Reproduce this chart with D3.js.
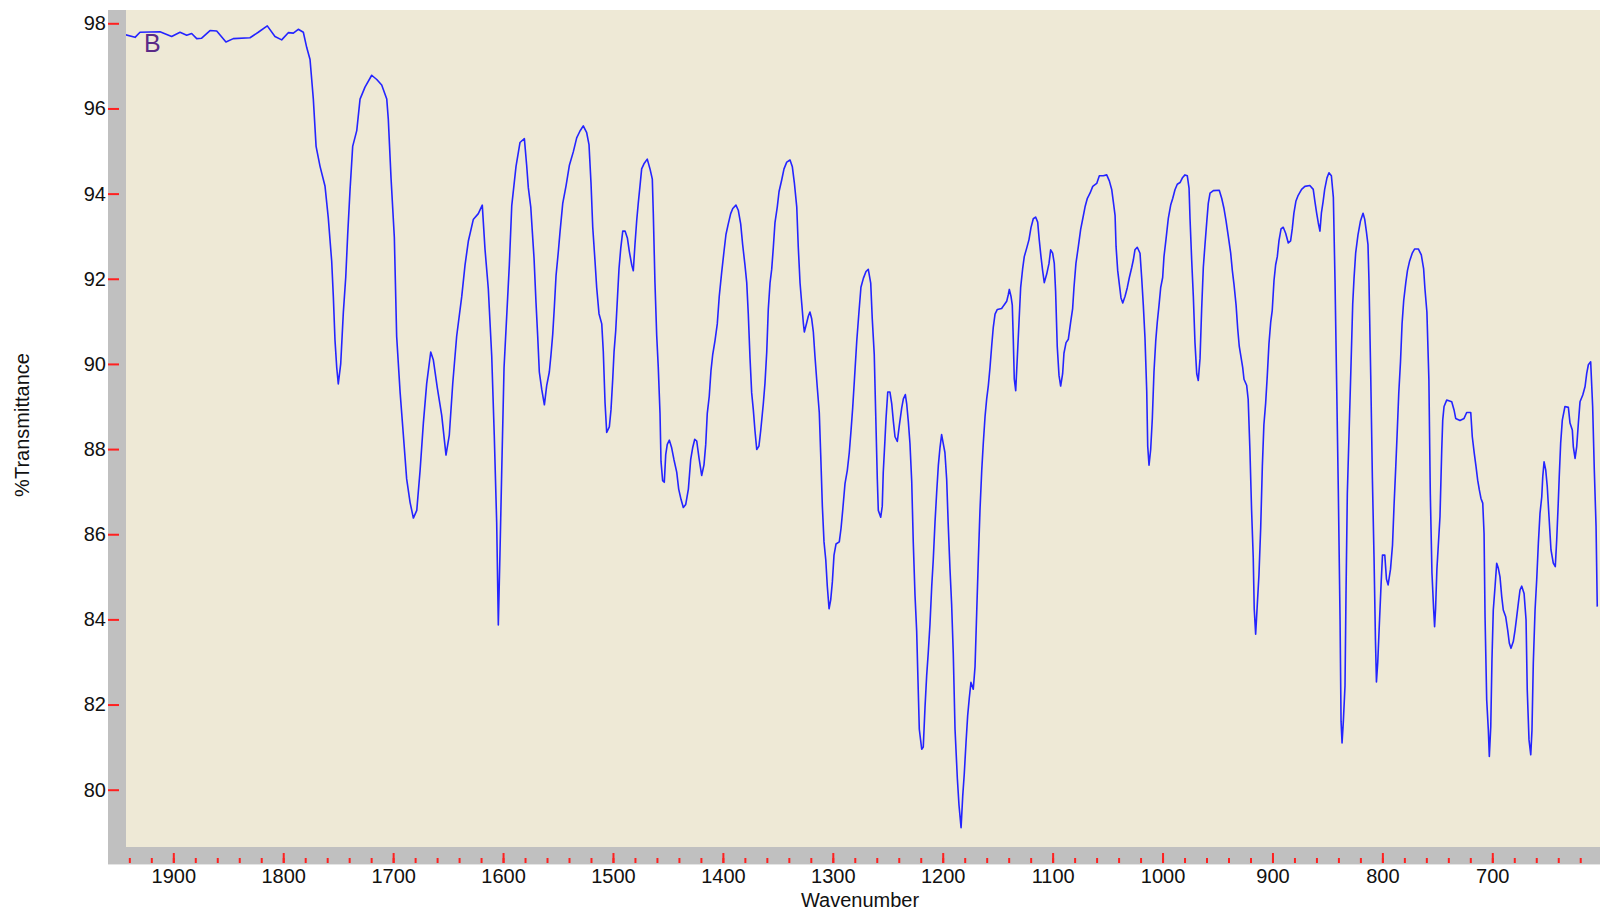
<!DOCTYPE html>
<html>
<head>
<meta charset="utf-8">
<script src="https://cdn.jsdelivr.net/npm/d3@7"></script>
<style>
  body { margin: 0; background: #ffffff; }
  svg { display: block; font-family: "Liberation Sans", Arial, sans-serif; }
</style>
</head>
<body>
<div class="spectrum"></div>
<script>
// Spectrum: wavenumber (cm-1) and %T
var wavenumber = [
  1943.3, 1934.8, 1930.3, 1912.1, 1901.5, 1893.9, 1887.8, 1883.3, 1878.7, 1874.2,
  1866.6, 1860.5, 1852.1, 1845.4, 1830.2, 1822.7, 1814.5, 1807.5, 1801.4, 1795.4,
  1790.8, 1786.3, 1781.7, 1778.6, 1775.6, 1772.6, 1770.1, 1766.5, 1762.0, 1759.0,
  1755.9, 1754.4, 1752.9, 1751.3, 1749.9, 1747.7, 1745.3, 1743.1, 1741.3, 1739.2,
  1736.8, 1733.1, 1730.1, 1725.6, 1719.5, 1714.9, 1710.4, 1705.8, 1704.4, 1701.9,
  1698.9, 1696.8, 1693.7, 1690.7, 1687.7, 1684.6, 1681.6, 1678.5, 1675.5, 1672.5,
  1669.5, 1665.8, 1663.4, 1659.8, 1655.8, 1651.9, 1648.9, 1645.8, 1642.2, 1637.6,
  1634.6, 1631.6, 1627.1, 1622.5, 1618.9, 1616.4, 1613.4, 1610.3, 1608.0, 1605.8,
  1604.3, 1602.8, 1601.2, 1599.1, 1596.7, 1594.3, 1592.1, 1588.2, 1584.6, 1580.6,
  1578.5, 1577.0, 1574.8, 1573.4, 1571.8, 1570.0, 1568.5, 1567.0, 1564.8, 1562.4,
  1560.3, 1557.9, 1556.4, 1554.8, 1553.3, 1551.8, 1549.7, 1548.1, 1545.7, 1542.7,
  1539.7, 1536.1, 1533.0, 1530.0, 1527.0, 1523.9, 1521.8, 1520.0, 1518.4, 1516.3,
  1514.8, 1512.7, 1510.2, 1508.8, 1507.2, 1505.7, 1503.3, 1501.8, 1500.2, 1499.0,
  1497.5, 1496.0, 1494.5, 1492.9, 1491.1, 1489.0, 1486.9, 1485.1, 1482.9, 1481.5,
  1480.0, 1478.4, 1477.0, 1475.4, 1473.9, 1471.8, 1468.8, 1466.3, 1464.2, 1463.3,
  1461.8, 1460.2, 1458.8, 1457.2, 1456.3, 1454.8, 1453.3, 1452.0, 1450.6, 1448.7,
  1446.6, 1444.5, 1442.0, 1440.2, 1438.1, 1436.0, 1433.8, 1431.4, 1429.3, 1427.5,
  1425.6, 1423.8, 1421.7, 1419.3, 1417.2, 1415.6, 1414.2, 1412.4, 1410.8, 1409.3,
  1407.2, 1405.1, 1403.3, 1401.1, 1399.0, 1397.2, 1395.1, 1392.9, 1391.0, 1388.1,
  1386.0, 1383.8, 1382.0, 1379.9, 1378.3, 1376.9, 1375.3, 1373.8, 1372.3, 1370.8,
  1369.2, 1367.2, 1365.6, 1363.2, 1361.7, 1360.1, 1358.7, 1357.1, 1355.6, 1354.1,
  1352.6, 1350.5, 1348.9, 1346.5, 1344.4, 1341.9, 1338.9, 1336.8, 1335.0, 1332.8,
  1331.4, 1329.8, 1328.3, 1326.8, 1325.9, 1323.8, 1322.3, 1320.8, 1319.2, 1317.7,
  1316.2, 1314.1, 1312.3, 1311.0, 1309.5, 1308.0, 1306.4, 1305.0, 1303.4, 1301.9,
  1300.4, 1298.9, 1297.1, 1294.1, 1292.5, 1291.0, 1288.9, 1286.8, 1285.0, 1283.4,
  1281.9, 1280.4, 1278.2, 1276.2, 1274.4, 1272.2, 1269.8, 1267.7, 1265.5, 1264.1,
  1262.3, 1261.0, 1259.5, 1258.6, 1256.4, 1255.0, 1254.1, 1252.5, 1251.6, 1250.0,
  1248.0, 1246.4, 1244.9, 1243.4, 1241.3, 1239.5, 1237.3, 1235.8, 1234.0, 1232.8,
  1231.3, 1229.8, 1228.2, 1226.8, 1225.2, 1223.7, 1222.5, 1221.3, 1219.1, 1217.7,
  1216.1, 1214.6, 1213.2, 1211.6, 1210.0, 1208.6, 1207.0, 1205.5, 1204.0, 1202.5,
  1201.0, 1199.5, 1198.0, 1196.4, 1195.0, 1193.4, 1191.9, 1190.4, 1188.8, 1186.7,
  1185.2, 1183.3, 1181.8, 1180.4, 1178.8, 1177.3, 1175.8, 1174.3, 1172.2, 1170.6,
  1169.1, 1167.6, 1166.1, 1164.5, 1163.1, 1161.5, 1160.0, 1158.5, 1157.0, 1155.4,
  1154.0, 1152.4, 1150.3, 1146.4, 1144.3, 1141.8, 1140.3, 1139.4, 1137.9, 1136.7,
  1135.8, 1134.9, 1133.6, 1132.1, 1130.6, 1129.1, 1127.3, 1125.8, 1123.6, 1121.5,
  1119.7, 1117.6, 1115.5, 1113.6, 1112.2, 1110.6, 1109.1, 1107.6, 1105.4, 1103.3,
  1101.8, 1100.0, 1098.5, 1097.3, 1095.8, 1094.2, 1092.7, 1090.9, 1089.7, 1087.8,
  1085.7, 1083.6, 1081.8, 1080.6, 1078.8, 1076.6, 1074.5, 1072.6, 1070.5, 1068.4,
  1066.0, 1063.5, 1059.9, 1057.5, 1053.9, 1050.8, 1048.4, 1046.2, 1044.8, 1043.2,
  1042.3, 1040.8, 1039.3, 1037.8, 1036.2, 1034.1, 1032.1, 1030.2, 1028.0, 1026.6,
  1025.1, 1023.0, 1020.5, 1019.0, 1017.5, 1016.0, 1014.4, 1013.5, 1012.3, 1010.8,
  1009.3, 1007.8, 1006.2, 1004.8, 1003.2, 1001.7, 999.9, 998.7, 996.9, 994.8,
  992.6, 990.7, 988.7, 986.6, 984.1, 981.7, 979.6, 977.5, 975.9, 975.0,
  973.5, 972.0, 970.5, 968.9, 967.5, 965.9, 964.4, 962.9, 961.4, 959.8,
  958.4, 956.8, 953.8, 948.4, 946.2, 944.1, 942.3, 940.2, 938.0, 936.5,
  935.0, 933.1, 931.6, 930.2, 927.1, 925.9, 923.5, 922.1, 920.5, 919.0,
  917.5, 916.6, 915.3, 913.8, 912.3, 910.7, 909.2, 907.8, 906.2, 904.7,
  903.2, 901.6, 900.2, 898.6, 897.1, 895.6, 894.1, 892.2, 890.2, 888.0,
  885.6, 883.5, 882.0, 880.5, 878.7, 876.6, 873.5, 870.5, 866.0, 862.9,
  861.4, 859.8, 858.3, 856.8, 855.5, 853.9, 852.5, 850.4, 848.6, 846.4,
  844.6, 843.1, 841.5, 840.1, 838.5, 837.6, 836.7, 835.5, 834.0, 833.1,
  831.9, 830.3, 828.5, 827.0, 825.8, 824.3, 822.2, 820.0, 817.6, 816.1,
  814.6, 813.1, 812.2, 810.6, 809.1, 807.6, 806.3, 805.4, 804.2, 803.0,
  801.2, 799.9, 797.8, 796.3, 794.8, 792.6, 790.8, 789.4, 787.8, 786.6,
  785.1, 783.5, 782.1, 780.6, 778.7, 777.2, 775.2, 772.7, 770.6, 767.3,
  764.6, 762.5, 761.3, 759.5, 757.7, 756.4, 754.9, 753.4, 752.5, 751.6,
  750.4, 747.6, 746.0, 745.1, 743.9, 741.5, 736.9, 734.8, 733.3, 729.4,
  725.7, 723.3, 719.6, 718.2, 716.4, 714.8, 713.3, 711.8, 710.3, 708.7,
  707.5, 706.6, 705.1, 703.6, 702.7, 701.4, 700.3, 699.1, 697.5, 696.0,
  694.5, 693.0, 691.4, 690.0, 687.8, 686.0, 684.5, 683.0, 680.9, 679.3,
  677.8, 676.3, 674.8, 673.2, 671.1, 669.3, 668.2, 666.6, 665.0, 663.9,
  662.7, 661.1, 659.6, 658.1, 656.6, 655.0, 654.1, 652.9, 651.4, 650.0,
  648.4, 646.6, 644.5, 642.7, 641.4, 640.0, 639.1, 637.8, 636.3, 633.9,
  630.8, 629.3, 627.2, 626.3, 624.7, 623.2, 621.7, 620.2, 617.7, 615.6,
  614.1, 612.6, 610.5, 608.7, 607.2, 605.6, 604.5
];
var transmittance = [
  97.73, 97.67, 97.79, 97.80, 97.69, 97.79, 97.72, 97.76, 97.64, 97.65,
  97.83, 97.82, 97.56, 97.64, 97.66, 97.79, 97.94, 97.69, 97.61, 97.78,
  97.77, 97.86, 97.79, 97.43, 97.15, 96.22, 95.11, 94.64, 94.18, 93.43,
  92.41, 91.58, 90.56, 89.91, 89.53, 90.00, 91.21, 92.04, 93.06, 94.09,
  95.11, 95.48, 96.22, 96.50, 96.78, 96.68, 96.55, 96.22, 95.75, 94.36,
  92.97, 90.65, 89.35, 88.33, 87.30, 86.75, 86.38, 86.56, 87.49, 88.61,
  89.53, 90.28, 90.09, 89.44, 88.79, 87.86, 88.33, 89.53, 90.65, 91.58,
  92.32, 92.88, 93.39, 93.53, 93.73, 92.69, 91.76, 90.18, 88.33, 86.28,
  83.87, 85.54, 87.49, 89.91, 91.11, 92.32, 93.71, 94.64, 95.20, 95.29,
  94.66, 94.14, 93.69, 93.12, 92.48, 91.43, 90.66, 89.81, 89.40, 89.04,
  89.49, 89.81, 90.21, 90.70, 91.35, 92.07, 92.64, 93.12, 93.77, 94.18,
  94.66, 94.98, 95.31, 95.47, 95.59, 95.43, 95.15, 94.26, 93.21, 92.40,
  91.79, 91.18, 90.94, 90.29, 89.08, 88.39, 88.52, 88.92, 89.65, 90.29,
  90.78, 91.51, 92.24, 92.72, 93.12, 93.12, 92.96, 92.64, 92.32, 92.19,
  92.80, 93.37, 93.77, 94.18, 94.58, 94.70, 94.81, 94.58, 94.34, 93.53,
  91.91, 90.66, 89.93, 88.84, 87.71, 87.26, 87.22, 87.87, 88.11, 88.21,
  88.03, 87.75, 87.46, 87.06, 86.82, 86.63, 86.70, 87.06, 87.75, 88.03,
  88.23, 88.19, 87.79, 87.38, 87.63, 88.11, 88.84, 89.24, 89.85, 90.21,
  90.54, 90.94, 91.59, 92.15, 92.64, 93.04, 93.29, 93.53, 93.65, 93.73,
  93.61, 93.29, 92.80, 92.32, 91.91, 91.18, 90.13, 89.32, 88.92, 88.43,
  87.99, 88.07, 88.43, 89.07, 89.55, 90.28, 91.28, 91.90, 92.22, 92.74,
  93.32, 93.69, 94.05, 94.32, 94.58, 94.74, 94.79, 94.63, 94.26, 93.69,
  92.74, 91.90, 91.43, 90.96, 90.75, 90.96, 91.12, 91.22, 91.06, 90.75,
  90.17, 89.44, 88.86, 87.87, 86.66, 85.82, 85.40, 84.78, 84.25, 84.46,
  84.88, 85.51, 85.77, 85.82, 86.14, 86.56, 87.19, 87.50, 87.92, 88.44,
  88.97, 89.60, 90.54, 91.22, 91.80, 92.01, 92.17, 92.22, 91.90, 91.06,
  90.23, 88.86, 87.29, 86.56, 86.40, 86.66, 87.45, 88.24, 88.71, 89.34,
  89.34, 89.07, 88.65, 88.29, 88.18, 88.55, 88.97, 89.18, 89.28, 89.07,
  88.65, 88.13, 87.24, 85.82, 84.56, 83.73, 82.57, 81.42, 80.95, 81.00,
  81.94, 82.68, 83.20, 83.88, 84.78, 85.40, 86.29, 86.98, 87.61, 88.03,
  88.34, 88.13, 87.92, 87.29, 86.24, 85.19, 84.36, 83.20, 81.42, 80.27,
  79.64, 79.11, 79.85, 80.37, 81.11, 81.74, 82.16, 82.52, 82.36, 82.89,
  84.15, 85.40, 86.56, 87.50, 88.13, 88.76, 89.18, 89.49, 89.91, 90.44,
  90.86, 91.17, 91.28, 91.30, 91.38, 91.47, 91.63, 91.75, 91.59, 91.38,
  90.58, 89.65, 89.37, 90.17, 90.98, 91.79, 92.23, 92.52, 92.72, 92.92,
  93.20, 93.41, 93.45, 93.33, 92.92, 92.52, 92.19, 91.91, 92.11, 92.36,
  92.68, 92.60, 92.36, 91.71, 90.41, 89.73, 89.48, 89.77, 90.25, 90.50,
  90.58, 90.98, 91.30, 91.79, 92.36, 92.76, 93.16, 93.41, 93.69, 93.89,
  94.01, 94.17, 94.24, 94.42, 94.42, 94.44, 94.30, 94.09, 93.81, 93.49,
  92.76, 92.19, 91.87, 91.55, 91.43, 91.59, 91.79, 92.03, 92.27, 92.44,
  92.68, 92.74, 92.60, 92.03, 91.38, 90.62, 89.37, 88.07, 87.62, 87.99,
  88.72, 89.81, 90.54, 90.98, 91.38, 91.79, 92.03, 92.52, 92.92, 93.41,
  93.73, 93.89, 94.09, 94.22, 94.26, 94.38, 94.44, 94.42, 94.13, 93.41,
  92.44, 91.59, 90.50, 89.77, 89.61, 90.13, 91.30, 92.27, 92.80, 93.33,
  93.77, 94.01, 94.07, 94.08, 93.89, 93.65, 93.37, 93.00, 92.60, 92.19,
  91.87, 91.38, 90.82, 90.41, 89.92, 89.64, 89.50, 89.17, 87.97, 86.57,
  85.46, 84.25, 83.65, 84.35, 85.04, 86.16, 87.60, 88.57, 89.08, 89.73,
  90.47, 90.98, 91.26, 91.96, 92.33, 92.52, 92.89, 93.17, 93.21, 93.07,
  92.84, 92.89, 93.17, 93.54, 93.82, 93.96, 94.10, 94.17, 94.19, 94.10,
  93.82, 93.54, 93.31, 93.12, 93.54, 93.82, 94.10, 94.37, 94.49, 94.42,
  93.91, 91.96, 89.36, 87.04, 83.97, 81.61, 81.10, 81.61, 82.44, 84.58,
  86.95, 88.39, 90.01, 91.40, 92.01, 92.61, 93.03, 93.35, 93.54, 93.40,
  93.12, 92.80, 91.96, 89.73, 87.32, 85.46, 83.51, 82.53, 83.00, 83.74,
  84.81, 85.51, 85.51, 84.95, 84.81, 85.18, 85.74, 86.67, 87.60, 88.34,
  89.31, 90.06, 90.94, 91.49, 91.91, 92.19, 92.42, 92.61, 92.70, 92.70,
  92.56, 92.24, 91.77, 91.22, 89.64, 86.95, 85.09, 84.25, 83.83, 84.25,
  85.18, 86.41, 87.98, 88.68, 89.00, 89.15, 89.11, 88.92, 88.72, 88.67,
  88.72, 88.86, 88.86, 88.29, 87.90, 87.59, 87.27, 87.04, 86.84, 86.73,
  86.02, 84.06, 82.11, 81.40, 80.78, 81.48, 83.05, 84.22, 84.77, 85.32,
  85.20, 85.00, 84.53, 84.22, 84.06, 83.75, 83.44, 83.32, 83.48, 83.75,
  84.06, 84.38, 84.69, 84.78, 84.61, 83.99, 82.34, 81.17, 80.82, 81.40,
  82.97, 84.22, 84.93, 85.79, 86.49, 86.88, 87.35, 87.70, 87.51, 87.12,
  86.41, 85.63, 85.32, 85.24, 85.87, 86.73, 87.35, 88.14, 88.68, 89.00,
  88.98, 88.61, 88.45, 88.06, 87.78, 88.06, 88.61, 89.11, 89.27, 89.47,
  89.78, 89.98, 90.05, 89.00, 87.51, 86.18, 84.30
];
var yTickValues = [80, 82, 84, 86, 88, 90, 92, 94, 96, 98];
var xMajorTicks = [1900, 1800, 1700, 1600, 1500, 1400, 1300, 1200, 1100, 1000, 900, 800, 700];
var xMinorTicks = d3.range(1940, 619, -20);
var sampleLabel = "B";
var xTitle = "Wavenumber";
var yTitle = "%Transmittance";

function init() {
  var w = 1606;
  var h = 915;
  // frame of the plot (gray strips left and bottom, beige panel)
  var frameLeft = 108, panelLeft = 126, panelRight = 1600;
  var panelTop = 10, panelBottom = 847, frameBottom = 864;

  var data = wavenumber.map(function (d, i) {
    return { wn: d, t: transmittance[i] };
  });

  var xScale = d3.scaleLinear()
    .domain([1900, 700])
    .range([173.3, 1492.3]);
  var yScale = d3.scaleLinear()
    .domain([98, 80])
    .range([23.3, 789.7]);

  var svg = d3.select(".spectrum")
    .append("svg")
    .attr("width", w)
    .attr("height", h);

  // gray frame
  svg.append("rect")
    .attr("x", frameLeft)
    .attr("y", panelTop)
    .attr("width", panelRight - frameLeft)
    .attr("height", frameBottom - panelTop)
    .attr("fill", "#c0c0c0");
  svg.append("line")
    .attr("x1", frameLeft).attr("x2", panelRight)
    .attr("y1", frameBottom + 0.5).attr("y2", frameBottom + 0.5)
    .attr("stroke", "#e4e4e4");

  // beige plot panel
  svg.append("rect")
    .attr("x", panelLeft)
    .attr("y", panelTop)
    .attr("width", panelRight - panelLeft)
    .attr("height", panelBottom - panelTop)
    .attr("fill", "#eee9d6");

  svg.append("clipPath")
    .attr("id", "panel")
    .append("rect")
    .attr("x", panelLeft)
    .attr("y", panelTop)
    .attr("width", panelRight - panelLeft)
    .attr("height", panelBottom - panelTop);

  // y axis, red ticks inside the gray strip
  var yAxis = d3.axisLeft(yScale)
    .tickValues(yTickValues)
    .tickSize(11)
    .tickPadding(2)
    .tickFormat(d3.format("d"));
  var gy = svg.append("g")
    .attr("transform", "translate(" + (frameLeft + 11) + ",0)")
    .call(yAxis);
  gy.select(".domain").remove();
  gy.selectAll(".tick line").attr("stroke", "#ff2020").attr("stroke-width", 2);
  gy.selectAll(".tick text")
    .attr("fill", "#111")
    .style("font-size", "20px")
    .style("font-family", "'Liberation Sans', Arial, sans-serif");

  // x axis minor ticks
  var xMinor = d3.axisBottom(xScale)
    .tickValues(xMinorTicks)
    .tickSize(5)
    .tickFormat("");
  var gxm = svg.append("g")
    .attr("transform", "translate(0," + (frameBottom - 6) + ")")
    .call(xMinor);
  gxm.select(".domain").remove();
  gxm.selectAll(".tick line").attr("stroke", "#ff2020").attr("stroke-width", 2);

  // x axis major ticks with labels
  var xAxis = d3.axisBottom(xScale)
    .tickValues(xMajorTicks)
    .tickSize(10)
    .tickPadding(6)
    .tickFormat(d3.format("d"));
  var gx = svg.append("g")
    .attr("transform", "translate(0," + (frameBottom - 11) + ")")
    .call(xAxis);
  gx.select(".domain").remove();
  gx.selectAll(".tick line").attr("stroke", "#ff2020").attr("stroke-width", 2);
  gx.selectAll(".tick text")
    .attr("fill", "#111")
    .style("font-size", "20px")
    .style("font-family", "'Liberation Sans', Arial, sans-serif");

  // spectrum line
  svg.append("path")
    .datum(data)
    .attr("clip-path", "url(#panel)")
    .attr("fill", "none")
    .attr("stroke", "#2424ff")
    .attr("stroke-width", 1.6)
    .attr("stroke-linejoin", "round")
    .attr("d", d3.line()
      .x(function (d) { return xScale(d.wn); })
      .y(function (d) { return yScale(d.t); }));

  // sample label
  svg.append("text")
    .attr("x", 144)
    .attr("y", 52)
    .attr("fill", "#5a2a88")
    .style("font-size", "25px")
    .text(sampleLabel);

  // axis titles
  svg.append("text")
    .attr("x", 860)
    .attr("y", 907)
    .attr("text-anchor", "middle")
    .attr("fill", "#111")
    .style("font-size", "20px")
    .text(xTitle);
  svg.append("text")
    .attr("transform", "translate(29,425) rotate(-90)")
    .attr("text-anchor", "middle")
    .attr("fill", "#111")
    .style("font-size", "20px")
    .text(yTitle);
}
window.onload = init;
</script>
</body>
</html>
